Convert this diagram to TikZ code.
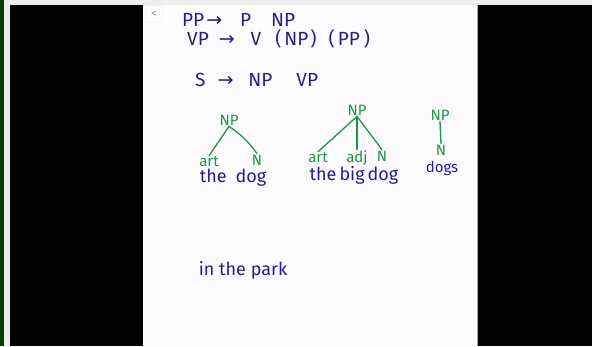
\documentclass[tikz,border=0pt]{standalone}
\usepackage{fontspec}
\setmainfont{Fira Sans}
\newfontfamily\arrowfont{DejaVu Sans}
\usetikzlibrary{positioning}
\definecolor{ink}{RGB}{38,30,140}
\definecolor{leaf}{RGB}{28,150,66}
\definecolor{sheet}{RGB}{253,251,253}
\definecolor{chrome}{RGB}{238,238,238}
\definecolor{lilac}{RGB}{150,120,220}
\tikzset{
  rule/.style={anchor=west, text=ink, inner sep=0pt, font=\fontsize{19}{20}\selectfont},
  cat/.style={text=leaf, inner sep=1pt, font=\fontsize{15}{16}\selectfont},
  word/.style={text=ink, inner sep=0pt, font=\fontsize{18}{19}\selectfont},
  branch/.style={draw=leaf, line width=1.3pt, line cap=round},
}
\begin{document}
\begin{tikzpicture}[x=1pt,y=-1pt]
\useasboundingbox (0,0) rectangle (592,346);
% window frame
\fill[chrome] (0,0) rectangle (592,346);
\fill[green!25!black] (0,0) rectangle (4,346);
\fill[black] (10,5) rectangle (143,346);
\fill[sheet] (143,5) rectangle (477,346);
\draw[gray!70] (477.5,5) -- (477.5,346);
\fill[black] (478,5) rectangle (592,346);
\node[draw=gray!25, fill=white, rounded corners=1pt, minimum width=16pt, minimum height=17pt,
  text=lilac, font=\fontsize{11}{12}\selectfont] (back) at (154,14) {<};
% rules
\node[rule] (pp) at (182,20) {PP\kern2pt{\arrowfont →}\hspace{18pt}P\hspace{20pt}NP};
\node[rule] (vp) at (187,39) {VP\hspace{10pt}{\arrowfont →}\hspace{16pt}V\hspace{14pt}(\kern3pt NP\kern2pt)\hspace{12pt}(\kern3pt PP\kern4pt)};
\node[rule] (s) at (195,80) {S\hspace{12pt}{\arrowfont →}\hspace{15pt}NP\hspace{24pt}VP};
% tree: the dog
\node[cat] (np1) at (229,120) {NP};
\node[cat] (art1) at (209,162) {art};
\node[cat] (n1) at (257,160) {N};
\node[word] (w1) at (233,178) {the\hspace{9pt}dog};
\draw[branch] (np1.south) -- (art1.north);
\draw[branch] (np1.south) to[bend left=10] (n1.north);
% tree: the big dog
\node[cat] (np2) at (357,110) {NP};
\node[cat] (art2) at (318,158) {art};
\node[cat] (adj2) at (357,158) {adj};
\node[cat] (n2) at (382,156) {N};
\node[word] (w2) at (354,175) {the\hspace{3pt}big\hspace{3pt}dog};
\draw[branch] (np2.south) -- (art2.north);
\draw[branch] (np2.south) -- (adj2.north);
\draw[branch] (np2.south) -- (n2.north);
% tree: dogs
\node[cat] (np3) at (440,115) {NP};
\node[cat] (n3) at (441,150) {N};
\node[word, font=\fontsize{15}{16}\selectfont] (w3) at (442,168) {dogs};
\draw[branch] (np3.south) -- (n3.north);
% phrase
\node[word] (park) at (243,270) {in the park};
\end{tikzpicture}
\end{document}
